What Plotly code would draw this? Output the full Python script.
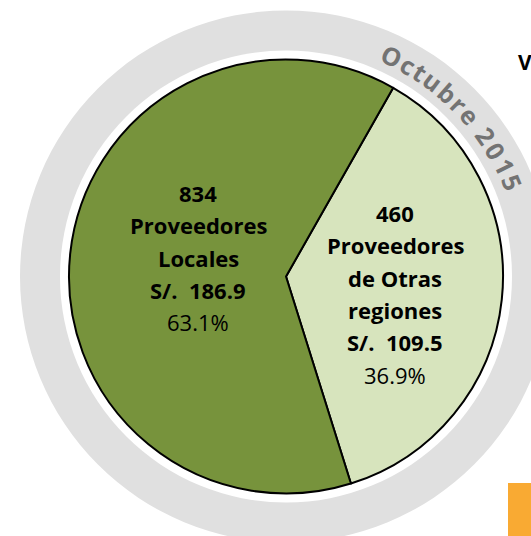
import math
import plotly.graph_objects as go

# ---- data ----
categories = ["Proveedores de Otras regiones", "Proveedores Locales"]
counts = [460, 834]
amounts = [109.5, 186.9]
label_lines = [["Proveedores", "de Otras", "regiones"], ["Proveedores", "Locales"]]
ring_text = "Octubre 2015"

W, H = 531, 536
CX, CY = 286, 276.5   # pie centre in pixels
R_PIE = 217
R_OUT, R_IN = 266, 226

def px(x):
    return x / W

def py(y):
    return 1 - y / H

colors = ["#D7E4BD", "#77933C"]

fig = go.Figure()
fig.add_trace(go.Pie(
    labels=categories,
    values=amounts,
    sort=False,
    direction="clockwise",
    rotation=29.6,
    marker=dict(colors=colors, line=dict(color="black", width=2)),
    textinfo="none",
    hoverinfo="skip",
    showlegend=False,
    domain=dict(x=[px(CX - R_PIE), px(CX + R_PIE)], y=[py(CY + R_PIE), py(CY - R_PIE)]),
))

shapes = [
    dict(type="circle", xref="paper", yref="paper", layer="below",
         x0=px(CX - R_OUT), x1=px(CX + R_OUT), y0=py(CY + R_OUT), y1=py(CY - R_OUT),
         fillcolor="#E0E0E0", line=dict(width=0)),
    dict(type="circle", xref="paper", yref="paper", layer="below",
         x0=px(CX - R_IN), x1=px(CX + R_IN), y0=py(CY + R_IN), y1=py(CY - R_IN),
         fillcolor="white", line=dict(width=0)),
    dict(type="rect", xref="paper", yref="paper", layer="above",
         x0=px(508), x1=px(531), y0=py(536), y1=py(483),
         fillcolor="#F9AA33", line=dict(width=0)),
]

annotations = []
FONT = "'Open Sans', Calibri, sans-serif"
FS = 22
LINE = 32.3

def add_label(cx, ytop, idx):
    total = sum(amounts)
    pct = amounts[idx] / total * 100
    lines = [f"<b>{counts[idx]}</b>"] + [f"<b>{l}</b>" for l in label_lines[idx]] + \
            [f"<b>S/.  {amounts[idx]:.1f}</b>", f"{pct:.1f}%"]
    for i, t in enumerate(lines):
        annotations.append(dict(
            x=px(cx), y=py(ytop + i * LINE), xref="paper", yref="paper",
            text=t, showarrow=False, xanchor="center", yanchor="middle",
            font=dict(family=FONT, size=FS, color="black")))

add_label(198, 193, 1)
add_label(395, 213, 0)

# curved ring text
widths = {"O": .66, "c": .42, "t": .35, "u": .54, "b": .54, "r": .36, "e": .5,
          " ": .23, "2": .51, "0": .51, "1": .51, "5": .51}
a0, a1 = 25.7, 67.4
ws = [widths.get(ch, .5) + 0.05 for ch in ring_text]
cum = []
s = 0
for w in ws:
    cum.append(s + w / 2)
    s += w
span = cum[-1] - cum[0]
R_TXT = 245
for ch, c in zip(ring_text, cum):
    if ch == " ":
        continue
    a = a0 + (c - cum[0]) / span * (a1 - a0)
    ar = math.radians(a)
    x = CX + R_TXT * math.sin(ar)
    y = CY - R_TXT * math.cos(ar)
    annotations.append(dict(
        x=px(x), y=py(y), xref="paper", yref="paper", text=f"<b>{ch}</b>",
        showarrow=False, textangle=a, xanchor="center", yanchor="middle",
        font=dict(family=FONT, size=25, color="#737373")))

annotations.append(dict(x=px(516), y=py(62), xref="paper", yref="paper",
                        text="<b>V</b>", showarrow=False, xanchor="left", yanchor="middle",
                        font=dict(family=FONT, size=21, color="black")))

fig.update_layout(
    width=W, height=H,
    margin=dict(l=0, r=0, t=0, b=0),
    paper_bgcolor="white", plot_bgcolor="white",
    shapes=shapes, annotations=annotations,
    showlegend=False,
)

fig.write_html("out.html", config={"displayModeBar": False},
               post_script="document.body.style.margin='0';document.body.style.overflow='hidden';")
